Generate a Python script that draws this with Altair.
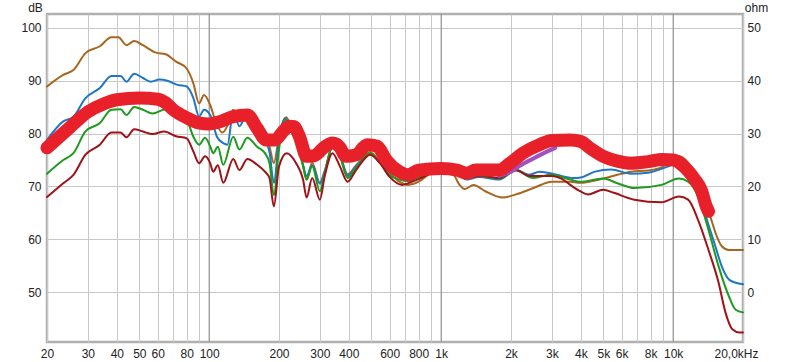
import altair as alt
import pandas as pd

# ---------------- data ----------------
brown_f = [20, 23.5, 26, 29.3, 33.8, 37.9, 40.6, 44.1, 47.5, 51.8, 59, 65, 72, 80, 85.5, 90.5, 95, 101, 106, 114, 120, 127, 136, 146,
           161, 175, 182, 190, 200, 215, 228, 240, 254, 263, 278, 300, 315, 340, 366, 395, 430, 495, 545, 600, 660, 720, 800, 880,
           1000, 1130, 1200, 1260, 1380, 1550, 1840, 2100, 2500, 3000, 3600, 3970, 5000, 5750, 6600, 7800, 9000, 10400, 11600,
           12800, 13700, 14500, 15200, 16200, 17400, 20000]
brown_db = [88.9, 91.1, 92.0, 95.2, 96.5, 98.2, 98.2, 96.7, 97.5, 96.7, 95.3, 95.0, 93.6, 92.3, 89.5, 85.7, 87.3, 85.4, 82.6, 80.2, 81.5, 84.5, 82.3, 84.0,
            82.0, 79.0, 77.5, 74.4, 79.4, 83.1, 80.5, 78.5, 74.0, 71.3, 74.5, 70.7, 73.0, 77.5, 76.0, 72.3, 74.0, 76.5, 74.5, 72.6, 70.9, 70.3, 70.9, 72.2,
            73.1, 72.2, 70.3, 69.5, 70.3, 69.1, 67.9, 68.5, 69.7, 70.9, 70.9, 70.7, 71.5, 72.2, 72.8, 73.0, 73.7, 75.8, 74.5,
            70.0, 66.5, 64.1, 61.3, 58.7, 58.0, 58.0]

blue_f = [20, 23.5, 26, 29.3, 33.8, 37.9, 41.5, 44, 47.5, 51.8, 56, 61, 66, 73, 80, 85.5, 90.5, 95, 101, 108, 115, 120, 127, 135, 146,
          161, 175, 182, 190, 200, 212, 228, 240, 254, 263, 278, 300, 315, 340, 366, 395, 430, 495, 545, 600, 660, 720, 800, 900,
          1060, 1170, 1290, 1450, 1780, 2100, 2400, 2650, 3150, 3700, 4000, 4600, 5400, 6600, 7800, 9400, 10400, 11600, 12800,
          13700, 15200, 16200, 17400, 18600, 20000]
blue_db = [78.8, 82.3, 83.2, 86.7, 88.6, 90.9, 90.9, 89.8, 91.3, 90.5, 89.8, 90.2, 90.0, 89.2, 88.9, 86.7, 83.2, 84.5, 83.5, 79.4, 78.2, 77.9, 84.2, 81.4, 83.9,
           81.5, 78.5, 76.5, 70.7, 78.8, 82.9, 80.5, 78.7, 74.0, 72.0, 74.0, 70.5, 72.8, 77.5, 76.0, 72.0, 73.8, 76.2, 74.5, 72.8, 71.8, 71.5, 72.0, 72.8,
           74.1, 72.8, 71.3, 71.8, 71.3, 73.1, 72.2, 72.8, 72.2, 71.6, 71.7, 72.8, 73.2, 72.4, 72.6, 73.7, 74.4, 73.5, 69.5,
           65.0, 58.7, 54.9, 52.4, 51.8, 51.5]

green_f = [20, 23.5, 26, 29.3, 33.8, 37.9, 41.5, 44, 47.5, 51.8, 57, 65, 72, 80, 85.5, 90.5, 96, 101, 104, 109, 115, 127, 135, 146,
           161, 174, 182, 190, 200, 212, 228, 237, 254, 263, 278, 300, 315, 340, 366, 395, 430, 495, 545, 600, 660, 720, 800, 900,
           1000, 1170, 1290, 1450, 1780, 2100, 2500, 2950, 3600, 3970, 5000, 5750, 6800, 8900, 10600, 11600, 12800, 14200,
           15700, 17400, 18600, 20000]
green_db = [72.4, 75.0, 76.3, 80.4, 82.0, 84.5, 84.6, 83.5, 85.0, 84.5, 83.8, 84.6, 83.8, 82.6, 79.4, 77.9, 79.2, 77.6, 76.3, 77.5, 74.1, 79.4, 77.0, 79.2,
            77.5, 76.3, 74.4, 68.4, 77.0, 82.6, 80.1, 78.6, 73.8, 71.3, 73.8, 69.1, 72.5, 77.5, 75.7, 71.6, 73.5, 76.3, 74.4, 72.1, 71.3, 71.0, 71.8, 72.5,
            73.2, 72.6, 71.5, 72.0, 71.5, 73.0, 71.6, 72.2, 71.3, 70.9, 71.5, 70.6, 69.7, 70.3, 71.5, 70.9, 68.1, 61.8,
            54.9, 49.2, 46.7, 46.2]

dred_f = [20, 23.5, 26, 29.3, 33.8, 37.9, 41.5, 44, 47.5, 51.8, 57, 64, 72, 80, 85.5, 90.5, 96, 101, 104, 109, 115, 127, 135, 146,
          161, 174, 182, 190, 200, 216, 237, 254, 263, 278, 300, 315, 340, 366, 395, 430, 495, 545, 600, 680, 760, 900,
          1000, 1200, 1300, 1500, 1780, 2100, 2400, 3000, 3300, 3600, 3970, 4300, 5000, 5550, 6800, 8900, 10600, 11600,
          12800, 14200, 15700, 16800, 18000, 19300, 20000]
dred_db = [68.0, 70.6, 72.2, 76.0, 77.9, 80.2, 80.2, 79.3, 80.8, 80.4, 79.9, 80.4, 79.5, 79.1, 76.6, 74.4, 75.7, 74.4, 72.8, 74.0, 70.7, 75.2, 73.1, 75.2,
           74.1, 72.8, 71.6, 66.2, 73.8, 76.3, 74.4, 71.3, 67.9, 71.6, 67.5, 72.0, 76.3, 73.8, 70.9, 73.1, 76.0, 74.4, 71.8, 70.3, 71.0, 72.5,
           73.4, 72.3, 71.8, 72.0, 71.6, 73.1, 72.0, 72.0, 71.5, 70.3, 69.1, 68.5, 69.4, 68.8, 67.5, 67.0, 68.1, 67.5,
           63.7, 58.0, 51.8, 46.2, 43.0, 42.4, 42.4]

purple_f = [1780, 2000, 2200, 2500, 2800, 3100]
purple_db = [72.0, 72.8, 74.0, 75.3, 76.4, 77.3]

red_f = [20, 25, 30, 35, 40, 50, 60, 65, 70, 80, 90, 100, 110, 127, 146, 161, 176, 192, 208, 222, 232, 245, 263, 283, 315, 340,
         366, 388, 430, 480, 530, 580, 660, 720, 800, 1000, 1170, 1290, 1410, 1780, 1980, 2250, 2650, 3000, 3600, 4000, 4400,
         5000, 5750, 6600, 7800, 9000, 10000, 11100, 12400, 13200, 13900, 14200]
red_db = [77.3, 81.1, 84.1, 85.6, 86.4, 86.7, 86.5, 85.8, 84.5, 83.0, 82.0, 81.8, 82.2, 83.2, 83.5, 81.0, 78.8, 78.8, 80.4, 81.4, 81.3, 79.4, 75.7, 75.8, 77.5, 78.2,
          77.4, 75.7, 76.0, 77.9, 77.6, 75.0, 72.8, 72.2, 73.1, 73.4, 73.1, 72.5, 73.1, 73.1, 74.4, 76.3, 77.9, 78.7, 78.8, 78.5, 77.2,
          75.7, 74.8, 74.4, 74.7, 75.1, 75.0, 73.8, 71.3, 69.4, 66.2, 65.3]

x_grid = [20, 30, 40, 50, 60, 70, 80, 90, 100, 200, 300, 400, 500, 600, 700, 800, 900,
          1000, 2000, 3000, 4000, 5000, 6000, 7000, 8000, 9000, 10000, 20000]
x_unlabeled = [70, 90, 500, 700, 900, 7000, 9000]
decades = [100, 1000, 10000]
db_ticks = [50, 60, 70, 80, 90, 100]
ohm_ticks = [0, 10, 20, 30, 40, 50]

# ---------------- chart ----------------
FONT = "Liberation Sans"
xscale = alt.Scale(type="log", domain=[20, 20000], nice=False)
yscale = alt.Scale(domain=[40.6, 102.6], nice=False, zero=False)

hide_cond = " || ".join("datum.value == %d" % v for v in x_unlabeled)
label_expr = ("(" + hide_cond + ") ? '' : "
              "datum.value == 20000 ? '20,0kHz' : datum.value >= 1000 ? (datum.value / 1000) + 'k' : '' + datum.value")

xaxis = alt.Axis(values=x_grid, labelExpr=label_expr, labelOverlap=False, labelFlush=False, grid=True,
                 gridColor="#c8c8c8", gridWidth=1, ticks=False, domain=False, labelPadding=6,
                 labelOffset={"condition": {"test": "datum.value == 20000", "value": -7}, "value": 0},
                 labelFont=FONT, labelFontSize=12, labelColor="#222", title=None)
yaxis = alt.Axis(values=db_ticks, grid=True, gridColor="#c8c8c8", gridWidth=1, ticks=False, domain=False,
                 labelPadding=6, labelFont=FONT, labelFontSize=12, labelColor="#222",
                 title="dB", titleAngle=0, titleX=-12, titleY=-3, titleAlign="center", titleBaseline="alphabetic",
                 titleFont=FONT, titleFontSize=12, titleFontWeight="normal", titleColor="#222")

X = alt.X("f:Q", scale=xscale, axis=xaxis)
Y = alt.Y("db:Q", scale=yscale, axis=yaxis)

rules = alt.Chart(pd.DataFrame({"f": decades})).mark_rule(color="#8a8a8a", strokeWidth=1).encode(x=X)

def line(fs, vs, color, width):
    return alt.Chart(pd.DataFrame({"f": fs, "db": vs})).mark_line(
        color=color, strokeWidth=width, interpolate="monotone", strokeCap="round", strokeJoin="round"
    ).encode(x=X, y=Y)

db_layer = alt.layer(
    rules,
    line(brown_f, brown_db, "#a8651f", 2),
    line(blue_f, blue_db, "#1f76c4", 2),
    line(green_f, green_db, "#1e9a1e", 2),
    line(dred_f, dred_db, "#9e1218", 2),
    line(purple_f, purple_db, "#a050c0", 4),
    line(red_f, red_db, "#e8202a", 13),
)

ohm_layer = alt.Chart(pd.DataFrame({"ohm": ohm_ticks})).mark_point(opacity=0).encode(
    x=alt.value(0),
    y=alt.Y("ohm:Q", scale=alt.Scale(domain=[-9.4, 52.6], nice=False, zero=False),
            axis=alt.Axis(orient="right", values=ohm_ticks, grid=False, ticks=False, domain=False,
                          labelPadding=4, labelFont=FONT, labelFontSize=12, labelColor="#222",
                          title="ohm", titleAngle=0, titleX=13, titleY=-3, titleAlign="center",
                          titleBaseline="alphabetic", titleFont=FONT, titleFontSize=12,
                          titleFontWeight="normal", titleColor="#222")),
)

chart = alt.layer(db_layer, ohm_layer).resolve_scale(y="independent").properties(
    width=696, height=328,
    padding={"left": 47, "top": 14, "right": 57, "bottom": 20},
    autosize=alt.AutoSizeParams(type="none"),
    background="white",
).configure_view(stroke="#b0b0b0", strokeWidth=2.5)

chart.save("out.html", embed_options={"renderer": "svg", "actions": False})
